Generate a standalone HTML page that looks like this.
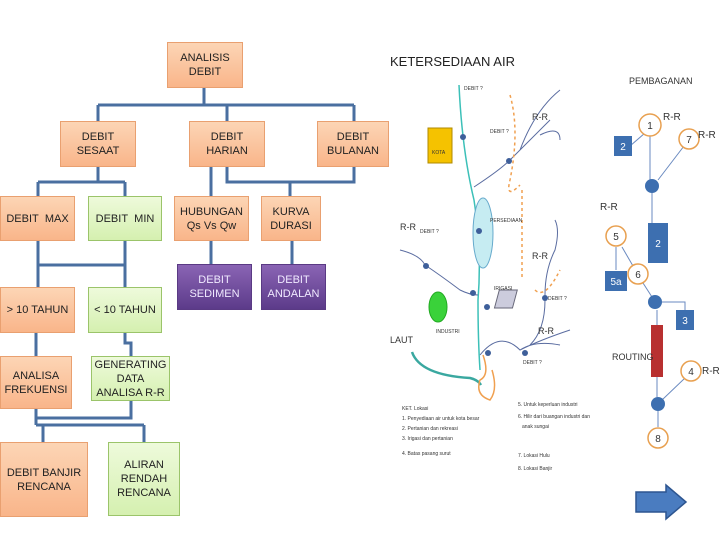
<!DOCTYPE html>
<html><head><meta charset="utf-8"><style>
body{margin:0;width:720px;height:540px;background:#fff;position:relative;overflow:hidden;font-family:"Liberation Sans",sans-serif}
.b{position:absolute;box-sizing:border-box;display:flex;align-items:center;justify-content:center;text-align:center;font-size:11px;line-height:14px;color:#222}
.o{background:linear-gradient(#fcd5b5,#f9b58a);border:1px solid #e9a070}
.g{background:linear-gradient(#eefadb,#d5f0b0);border:1px solid #9bc46a}
.p{background:linear-gradient(#8a64b4,#5c3b8a);border:1px solid #5a3a84;color:#f0eaff}
svg{position:absolute;left:0;top:0}
</style></head><body>
<svg width="720" height="540" font-family="Liberation Sans">
<g stroke="#4a6fa0" stroke-width="3" fill="none">
<path d="M204 88V105M98 105H354M98 105V121M227 105V121M354 105V121"/>
<path d="M98 167V182M38 182H125M38 182V196M125 182V196"/>
<path d="M211 167V196M227 167V182H354V167M290 182V196"/>
<path d="M211 241V264M292 241V264"/>
<path d="M38 241V287M125 241V287M38 265H125"/>
<path d="M36 333V356M125 333V343H131V356"/>
<path d="M36 409V425M36 418H131V401M36 425H144M43 425V442M144 425V442"/>
</g>
<text x="390" y="66" font-size="13" fill="#222">KETERSEDIAAN AIR</text>
<g fill="none" stroke-width="1.5">
<path d="M459 85 Q462 150 474 200 Q482 250 478 300 Q478 340 480 370" stroke="#3cc0b8"/>
<path d="M412 352 Q420 375 470 378 Q478 380 481 385" stroke="#3aa8a0" stroke-width="2.5"/>
<path d="M474 187 Q500 170 510 160 Q530 140 550 120 M520 150 Q535 110 560 90 M540 135 Q560 125 560 140" stroke="#5a6ca0" stroke-width="1"/>
<path d="M425 265 Q440 275 460 290 Q470 295 478 295 M400 250 Q420 255 425 265" stroke="#5a6ca0" stroke-width="1"/>
<path d="M480 355 Q500 330 520 350 Q540 340 570 330 M520 350 Q535 340 560 345" stroke="#5a6ca0" stroke-width="1"/>
<path d="M545 295 Q545 270 555 250 Q560 230 555 220 M545 300 Q545 330 530 345" stroke="#5a6ca0" stroke-width="1"/>
<path d="M510 95 Q520 130 510 180 Q505 200 520 185" stroke="#f0a050" stroke-dasharray="3,3"/>
<path d="M522 190 V280 M535 290 Q545 300 560 270" stroke="#f0a050" stroke-dasharray="3,3"/>
<path d="M483 355 Q490 375 480 380 Q475 395 490 400 Q498 390 492 370" stroke="#f0a050"/>
</g>
<rect x="428" y="128" width="24" height="35" fill="#f5c200" stroke="#b08a00"/>
<ellipse cx="483" cy="233" rx="10" ry="35" fill="#c6ecf2" stroke="#6ac"/>
<ellipse cx="438" cy="307" rx="9" ry="15" fill="#3ad23a" stroke="#2a2"/>
<rect x="497" y="290" width="18" height="18" fill="#ccd" stroke="#667" transform="skewX(-15) translate(80 0)"/>
<g fill="#3e5f9a"><circle cx="463" cy="137" r="3"/><circle cx="509" cy="161" r="3"/><circle cx="479" cy="231" r="3"/><circle cx="426" cy="266" r="3"/><circle cx="473" cy="293" r="3"/><circle cx="487" cy="307" r="3"/><circle cx="545" cy="298" r="3"/><circle cx="488" cy="353" r="3"/><circle cx="525" cy="353" r="3"/></g>
<g font-size="5" fill="#333"><text x="464" y="90">DEBIT ?</text><text x="490" y="133">DEBIT ?</text><text x="420" y="233">DEBIT ?</text><text x="490" y="222">PERSEDIAAN</text><text x="548" y="300">DEBIT ?</text><text x="523" y="364">DEBIT ?</text><text x="432" y="154">KOTA</text><text x="436" y="333">INDUSTRI</text><text x="494" y="290">IRIGASI</text></g>
<g font-size="9" fill="#333"><text x="532" y="120">R-R</text><text x="400" y="230">R-R</text><text x="532" y="259">R-R</text><text x="538" y="334">R-R</text><text x="390" y="343">LAUT</text></g>
<g font-size="5" fill="#333"><text x="402" y="410">KET. Lokasi</text><text x="402" y="420">1. Penyediaan air untuk kota besar</text><text x="402" y="430">2. Pertanian dan rekreasi</text><text x="402" y="440">3. Irigasi dan pertanian</text><text x="402" y="455">4. Batas pasang surut</text>
<text x="518" y="406">5. Untuk keperluan industri</text><text x="518" y="418">6. Hilir dari buangan industri dan</text><text x="522" y="428">anak sungai</text><text x="518" y="457">7. Lokasi Hulu</text><text x="518" y="470">8. Lokasi Banjir</text></g>
<text x="629" y="84" font-size="9" fill="#333">PEMBAGANAN</text>
<g stroke="#6a8ac0" stroke-width="1" fill="none"><path d="M650 136V180M645 133L630 146M684 146L658 180M652 193V223M622 247L633 266M616 247V270M643 283L652 297M661 302H685V310M657 310V325M657 377V397M685 378L662 400M658 411V427"/></g>
<g fill="#3d6fb0"><rect x="614" y="136" width="18" height="20"/><rect x="648" y="223" width="20" height="40"/><rect x="605" y="271" width="22" height="20"/><rect x="676" y="310" width="18" height="20"/><circle cx="652" cy="186" r="7"/><circle cx="655" cy="302" r="7"/><circle cx="658" cy="404" r="7"/></g>
<rect x="651" y="325" width="12" height="52" fill="#b83030"/>
<g fill="#fff" stroke="#e8a050" stroke-width="1.5"><circle cx="650" cy="125" r="11"/><circle cx="689" cy="139" r="10"/><circle cx="616" cy="236" r="10"/><circle cx="638" cy="274" r="10"/><circle cx="691" cy="371" r="10"/><circle cx="658" cy="438" r="10"/></g>
<g font-size="10" fill="#333" text-anchor="middle"><text x="650" y="129">1</text><text x="689" y="143">7</text><text x="616" y="240">5</text><text x="638" y="278">6</text><text x="691" y="375">4</text><text x="658" y="442">8</text></g>
<g font-size="10" fill="#fff" text-anchor="middle"><text x="623" y="150">2</text><text x="658" y="247">2</text><text x="616" y="285">5a</text><text x="685" y="324">3</text></g>
<g font-size="10" fill="#333"><text x="663" y="120">R-R</text><text x="698" y="138">R-R</text><text x="600" y="210">R-R</text><text x="702" y="374">R-R</text><text x="612" y="360" font-size="9">ROUTING</text></g>
<path d="M636 492H666V485L686 502L666 519V512H636Z" fill="#4a7cc0" stroke="#2d5590" stroke-width="1.5"/>
</svg>
<div class="b o" style="left:167px;top:42px;width:76px;height:46px">ANALISIS<br>DEBIT</div>
<div class="b o" style="left:60px;top:121px;width:76px;height:46px">DEBIT<br>SESAAT</div>
<div class="b o" style="left:189px;top:121px;width:76px;height:46px">DEBIT<br>HARIAN</div>
<div class="b o" style="left:317px;top:121px;width:72px;height:46px">DEBIT<br>BULANAN</div>
<div class="b o" style="left:0;top:196px;width:75px;height:45px">DEBIT&nbsp; MAX</div>
<div class="b g" style="left:88px;top:196px;width:74px;height:45px">DEBIT&nbsp; MIN</div>
<div class="b o" style="left:174px;top:196px;width:75px;height:45px">HUBUNGAN<br>Qs Vs Qw</div>
<div class="b o" style="left:261px;top:196px;width:60px;height:45px">KURVA<br>DURASI</div>
<div class="b p" style="left:177px;top:264px;width:75px;height:46px">DEBIT<br>SEDIMEN</div>
<div class="b p" style="left:261px;top:264px;width:65px;height:46px">DEBIT<br>ANDALAN</div>
<div class="b o" style="left:0;top:287px;width:75px;height:46px">&gt; 10 TAHUN</div>
<div class="b g" style="left:88px;top:287px;width:74px;height:46px">&lt; 10 TAHUN</div>
<div class="b o" style="left:0;top:356px;width:72px;height:53px">ANALISA<br>FREKUENSI</div>
<div class="b g" style="left:91px;top:356px;width:79px;height:45px">GENERATING<br>DATA<br>ANALISA R-R</div>
<div class="b o" style="left:0;top:442px;width:88px;height:75px">DEBIT BANJIR<br>RENCANA</div>
<div class="b g" style="left:108px;top:442px;width:72px;height:74px">ALIRAN<br>RENDAH<br>RENCANA</div>
</body></html>
